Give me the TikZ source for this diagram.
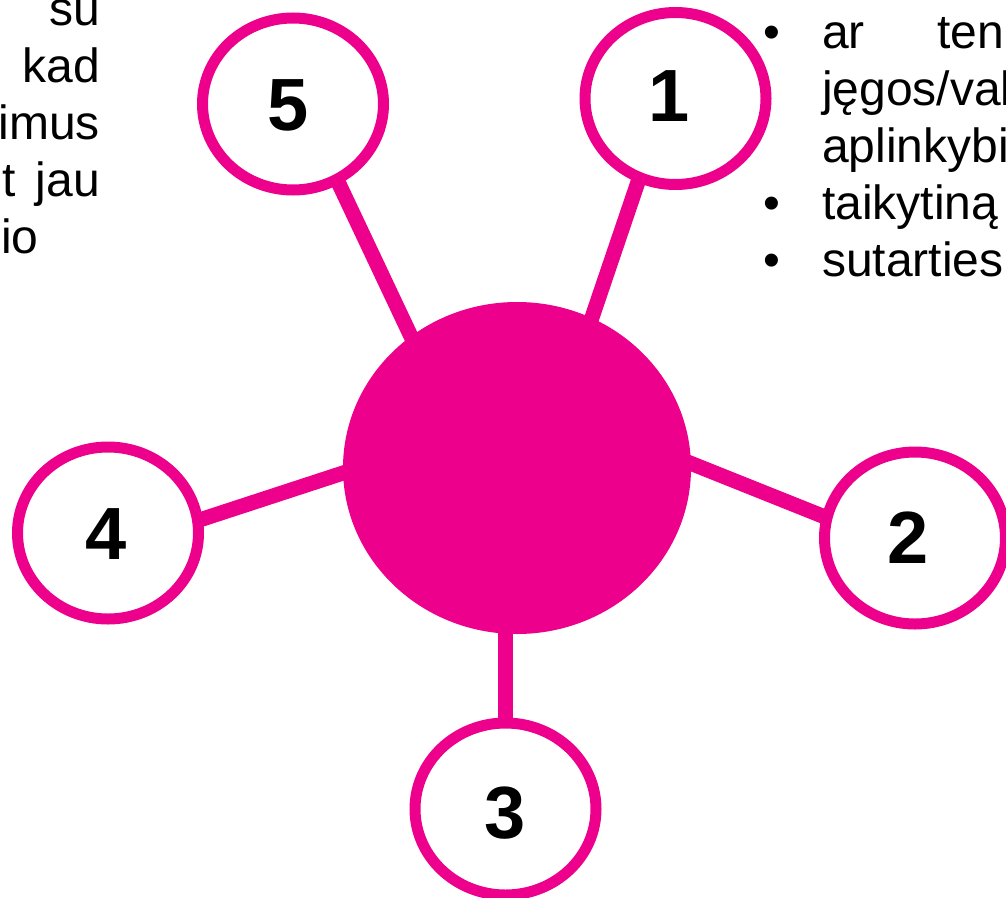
\documentclass[tikz,border=0pt]{standalone}
\usepackage{fontspec}
\setmainfont{Liberation Sans}
\usetikzlibrary{shapes.geometric}
\definecolor{hubpink}{RGB}{236,0,140}
\begin{document}
\begin{tikzpicture}[x=1pt,y=-1pt,
  ring/.style={ellipse,draw=hubpink,line width=11pt,fill=white,minimum width=181pt,minimum height=172pt,inner sep=0pt},
  hub/.style={ellipse,fill=hubpink,minimum width=348pt,minimum height=332pt,inner sep=0pt,outer sep=0pt},
  link/.style={draw=hubpink,line width=15pt},
  num/.style={font=\fontsize{74}{80}\selectfont\bfseries,inner sep=0pt},
  txt/.style={font=\fontsize{48}{57}\selectfont,inner sep=0pt}]
\useasboundingbox (0,0) rectangle (1006,897);
\clip (0,0) rectangle (1006,897);
% connector end points
\coordinate (l5a) at (323,150); \coordinate (l5b) at (441,400);
\coordinate (l1a) at (659,120); \coordinate (l1b) at (564,400);
\coordinate (l2a) at (600,427); \coordinate (l2b) at (900,547);
\coordinate (l4a) at (120,546); \coordinate (l4b) at (450,438);
\coordinate (l3a) at (505.5,500); \coordinate (l3b) at (505.5,780);
\draw[link] (l5a) -- (l5b);
\draw[link] (l1a) -- (l1b);
\draw[link] (l2a) -- (l2b);
\draw[link] (l4a) -- (l4b);
\draw[link] (l3a) -- (l3b);
% hub and rings
\node[hub] (hub) at (517,468) {};
\node[ring] (r5) at (293,104) {};
\node[ring] (r1) at (675.5,98.5) {};
\node[ring] (r4) at (108,533) {};
\node[ring] (r2) at (915,538) {};
\node[ring] (r3) at (505.5,809) {};
\node[num] (n5) at (288,105) {5};
\node[num] (n1) at (669,96) {1};
\node[num] (n4) at (106,534) {4};
\node[num] (n2) at (908,538) {2};
\node[num] (n3) at (505,813) {3};
% left text
\node[txt,anchor=base east] (la) at (100,25) {su};
\node[txt,anchor=base east] (lb) at (100,82) {kad};
\node[txt,anchor=base east] (lc) at (100,139) {imus};
\node[txt,anchor=base west] (ld1) at (2,196) {t};
\node[txt,anchor=base east] (ld2) at (100,196) {jau};
\node[txt,anchor=base west] (le) at (1,253) {io};
% right text
\node[txt,anchor=base] (b1) at (772,48) {•};
\node[txt,anchor=base] (b2) at (772,219) {•};
\node[txt,anchor=base] (b3) at (772,276) {•};
\node[txt,anchor=base west] (ra1) at (822,48) {ar};
\node[txt,anchor=base west] (ra2) at (937,48) {ten};
\node[txt,anchor=base west] (rb) at (822,105) {jęgos/val};
\node[txt,anchor=base west] (rc) at (822,162) {aplinkybi};
\node[txt,anchor=base west] (rd) at (822,219) {taikytiną};
\node[txt,anchor=base west] (re) at (822,276) {sutarties};
\end{tikzpicture}
\end{document}
